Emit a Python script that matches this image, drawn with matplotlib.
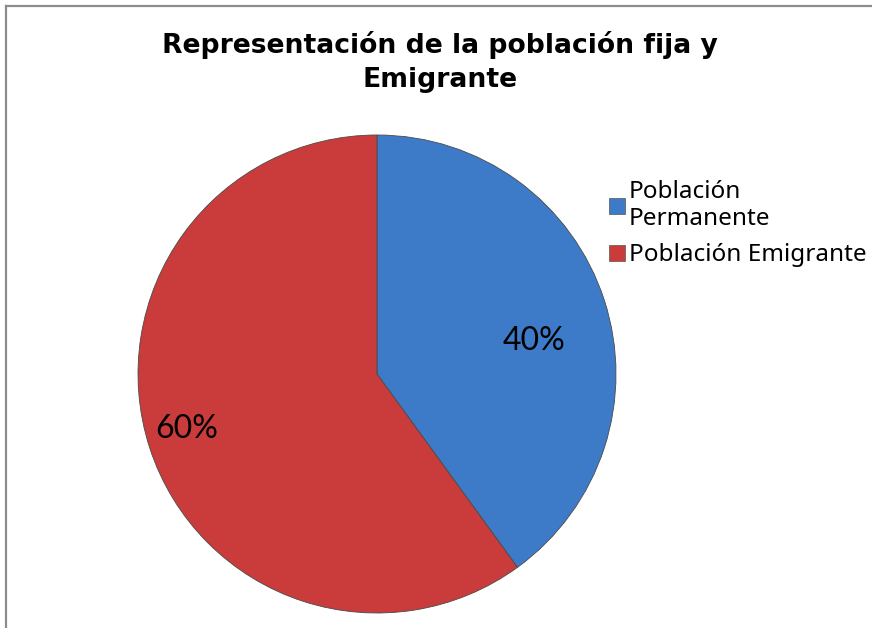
import matplotlib
matplotlib.use("Agg")
import matplotlib.pyplot as plt
from matplotlib.lines import Line2D
from matplotlib.patches import Rectangle

# data
categories = ["Población Permanente", "Población Emigrante"]
legend_labels = ["Población\nPermanente", "Población Emigrante"]
shares = [40, 60]
colors = ["#3d7bc8", "#c93c3b"]
# where the percentage labels sit, in pie radii from the centre
label_xy = [(0.657, 0.14), (-0.795, -0.23)]

W, H = 872, 628
fig = plt.figure(figsize=(W / 100, H / 100), dpi=100)

# pie axes: centre ~ (377, 374) px, radius ~239 px
cx, cy, r = 377, 374, 239
ax = fig.add_axes([(cx - r) / W, (H - cy - r) / H, 2 * r / W, 2 * r / H])
wedges, texts, pcts = ax.pie(
    shares, colors=colors, startangle=90, counterclock=False,
    autopct="%d%%",
    wedgeprops=dict(edgecolor="#4a4a4a", linewidth=0.6),
    textprops=dict(fontsize=23, family="Lato", color="black"))
ax.set_xlim(-1, 1); ax.set_ylim(-1, 1)
for w in wedges:
    w.set_clip_on(False)
for t, xy in zip(pcts, label_xy):
    t.set_position(xy)

fig.text(0.5046, 1 - 31 / H, "Representación de la población fija y\nEmigrante",
         ha="center", va="top", fontsize=19.2, weight="bold",
         family="DejaVu Sans", linespacing=1.4)

handles = [Rectangle((0, 0), 1, 1, facecolor=c, edgecolor="#555", linewidth=0.5)
           for c in colors]
leg = fig.legend(handles, legend_labels, loc="upper left",
                 bbox_to_anchor=(599 / W, 1 - 170 / H), frameon=False,
                 prop=dict(family="Noto Sans", size=17.5),
                 handlelength=0.66, handleheight=0.66, handletextpad=0.16,
                 labelspacing=0.5, borderaxespad=0)

# chart border (only top and left edges visible in the picture)
bx, by = 6 / W, 1 - 6 / H
fig.add_artist(Line2D([bx, bx], [0, by], transform=fig.transFigure,
                      color="#8c8c8c", linewidth=1.6))
fig.add_artist(Line2D([bx, 1], [by, by], transform=fig.transFigure,
                      color="#8c8c8c", linewidth=1.6))

fig.savefig("out.png", dpi=100)
